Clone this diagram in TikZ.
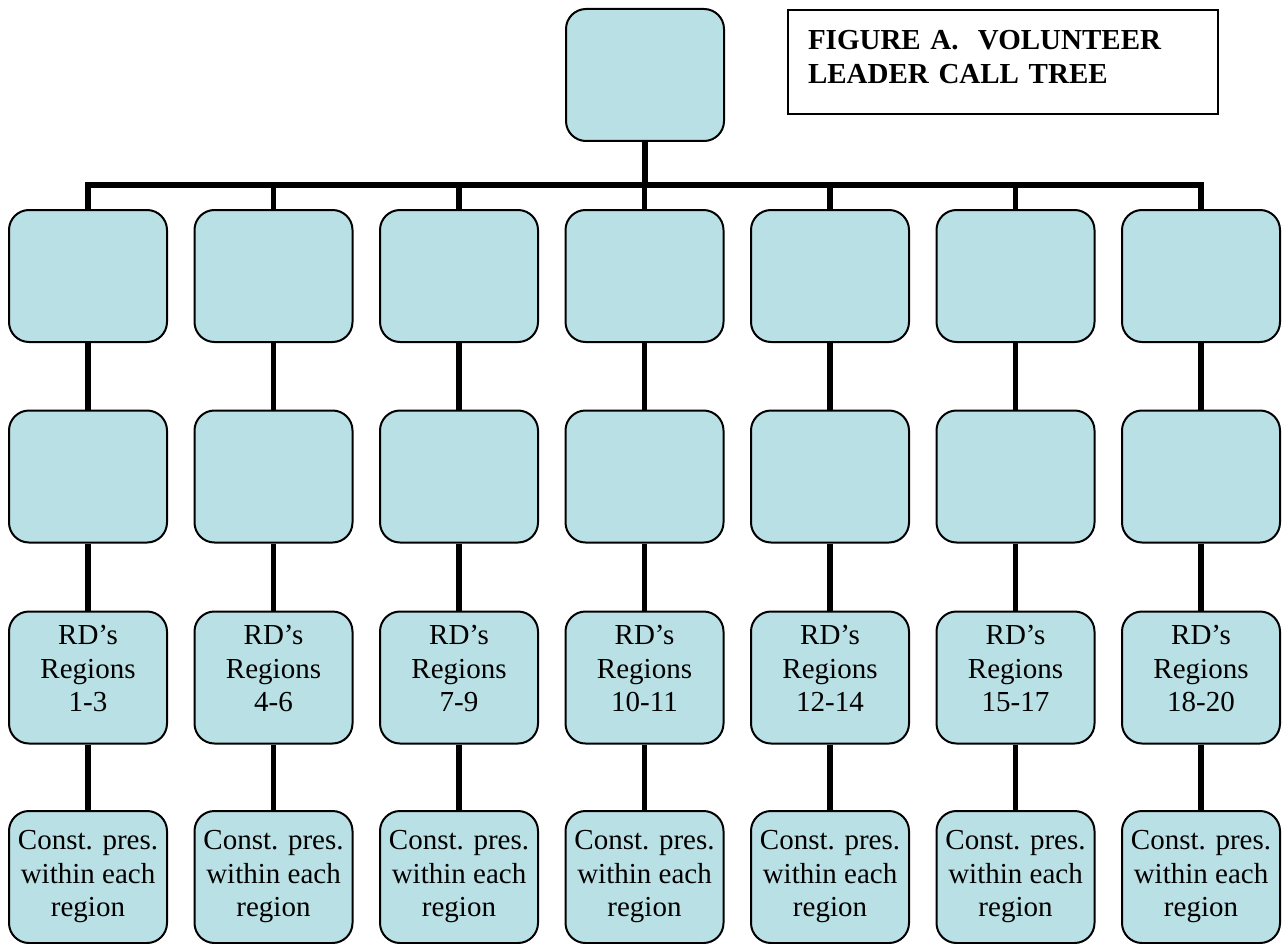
\documentclass[tikz,border=0pt]{standalone}
\usepackage{fontspec}
\setmainfont{Liberation Serif}
\usetikzlibrary{positioning}
\definecolor{treefill}{RGB}{185,224,228}

\tikzset{
  callbox/.style={draw, line width=2pt, fill=treefill, rounded corners=20pt,
    minimum width=158pt, minimum height=132pt, inner sep=0pt, align=center,
    font=\fontsize{29}{33.5}\selectfont},
  link/.style={line width=5.5pt},
  titlebox/.style={draw, line width=2pt, anchor=north west, minimum height=104pt,
    text width=390pt, inner xsep=20pt, inner ysep=0pt, align=left,
    font=\bfseries\fontsize{29}{34}\selectfont}
}

\begin{document}
\begin{tikzpicture}[x=1pt,y=-1pt]
    \useasboundingbox (0,0) rectangle (1284,944);
    \node[callbox] (chair) at (645,75) {};
    \node[titlebox] (title) at (787,9) {FIGURE A.\ \ VOLUNTEER\\LEADER CALL TREE\rule[-11pt]{0pt}{0pt}};
    \coordinate (bar) at (645,185);
    \foreach \i/\rng in {1/1-3,2/4-6,3/7-9,4/10-11,5/12-14,6/15-17,7/18-20} {
        \pgfmathsetmacro\cx{88+185.5*(\i-1)}
        \node[callbox] (lead\i) at (\cx,276) {};
        \node[callbox] (sub\i) at (\cx,476.5) {};
        \node[callbox] (rd\i) at (\cx,677.5) {RD’s\\Regions\\\rng\rule[-18pt]{0pt}{0pt}};
        \node[callbox] (pres\i) at (\cx,877) {Const. pres.\\within each\\region};
        \draw[link] (lead\i) -- (sub\i);
        \draw[link] (sub\i) -- (rd\i);
        \draw[link] (rd\i) -- (pres\i);
    }
    \draw[link] (chair) -- (bar);
    \draw[link] (lead1.north) |- (lead7.north |- bar) -- (lead7.north);
    \foreach \i in {2,...,6}
        \draw[link] (lead\i.north |- bar) -- (lead\i.north);
\end{tikzpicture}
\end{document}
